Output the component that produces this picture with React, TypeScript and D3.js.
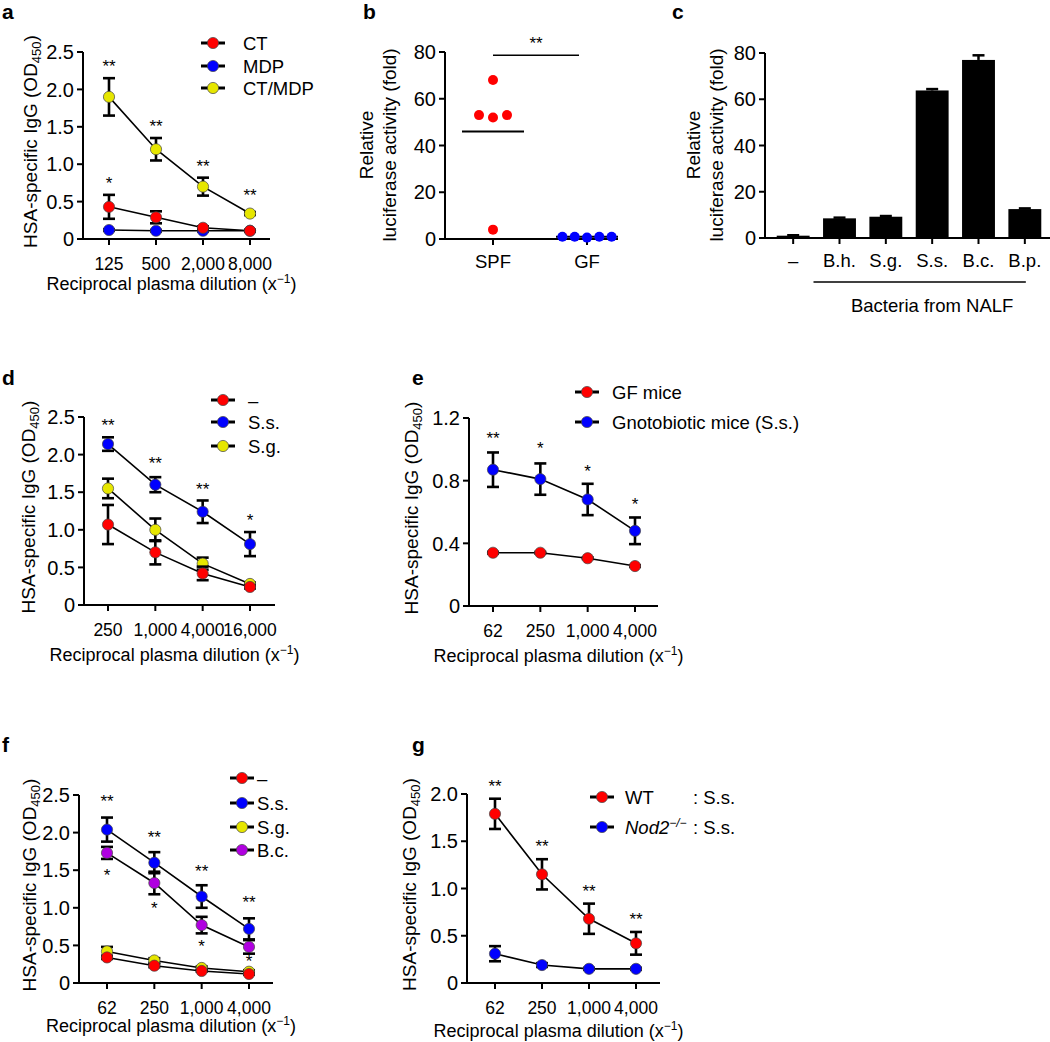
import React from 'react';
import * as d3 from 'd3';

const FONT = '"Liberation Sans", Arial, Helvetica, sans-serif';
const RED = '#ff0000';
const BLUE = '#0000ff';
const YELLOW = '#e6e600';
const PURPLE = '#b000e0';

// panel a
const aDilutions = ['125', '500', '2,000', '8,000'];
const aCT = [0.43, 0.29, 0.15, 0.11];
const aCTErr = [0.16, 0.08, 0.02, 0.01];
const aMDP = [0.12, 0.11, 0.11, 0.11];
const aMDPErr = [0.01, 0.01, 0.01, 0.01];
const aCTMDP = [1.9, 1.2, 0.7, 0.34];
const aCTMDPErr = [0.25, 0.15, 0.12, 0.02];
const aStars = [
  { at: 0, value: 2.35, text: '**' },
  { at: 1, value: 1.55, text: '**' },
  { at: 2, value: 1.02, text: '**' },
  { at: 3, value: 0.63, text: '**' },
  { at: 0, value: 0.79, text: '*' },
];

// panel b
const bGroups = ['SPF', 'GF'];
const bSPF = [68, 53, 52, 53, 4];
const bGF = [1, 1, 0.6, 1, 1];
const bSigValue = 78.6;

// panel c
const cStrains = ['–', 'B.h.', 'S.g.', 'S.s.', 'B.c.', 'B.p.'];
const cValues = [1, 8.5, 9.2, 63.8, 77, 12.5];
const cErr = [0.2, 0.3, 0.3, 0.6, 2.0, 0.3];

// panel d
const dDilutions = ['250', '1,000', '4,000', '16,000'];
const dNone = [1.07, 0.7, 0.42, 0.24];
const dNoneErr = [0.26, 0.16, 0.09, 0.02];
const dSs = [2.14, 1.6, 1.24, 0.81];
const dSsErr = [0.09, 0.1, 0.15, 0.16];
const dSg = [1.55, 1.0, 0.55, 0.28];
const dSgErr = [0.13, 0.15, 0.08, 0.02];
const dStars = [
  { at: 0, value: 2.43, text: '**' },
  { at: 1, value: 1.93, text: '**' },
  { at: 2, value: 1.58, text: '**' },
  { at: 3, value: 1.17, text: '*' },
];

// panel e
const eDilutions = ['62', '250', '1,000', '4,000'];
const eGF = [0.34, 0.34, 0.305, 0.255];
const eGFErr = [0.005, 0.005, 0.005, 0.005];
const eGno = [0.87, 0.81, 0.68, 0.48];
const eGnoErr = [0.11, 0.1, 0.1, 0.085];
const eStars = [
  { at: 0, value: 1.09, text: '**' },
  { at: 1, value: 1.03, text: '*' },
  { at: 2, value: 0.88, text: '*' },
  { at: 3, value: 0.67, text: '*' },
];

// panel f
const fDilutions = ['62', '250', '1,000', '4,000'];
const fNone = [0.34, 0.23, 0.16, 0.12];
const fNoneErr = [0.02, 0.02, 0.01, 0.01];
const fSs = [2.04, 1.6, 1.15, 0.72];
const fSsErr = [0.16, 0.14, 0.15, 0.14];
const fSg = [0.42, 0.3, 0.2, 0.15];
const fSgErr = [0.06, 0.03, 0.02, 0.02];
const fBc = [1.73, 1.33, 0.77, 0.48];
const fBcErr = [0.08, 0.15, 0.11, 0.09];
const fStars = [
  { at: 0, value: 2.46, text: '**' },
  { at: 1, value: 1.98, text: '**' },
  { at: 2, value: 1.53, text: '**' },
  { at: 3, value: 1.12, text: '**' },
  { at: 0, value: 1.48, text: '*' },
  { at: 1, value: 1.04, text: '*' },
  { at: 2, value: 0.53, text: '*' },
  { at: 3, value: 0.33, text: '*' },
];

// panel g
const gDilutions = ['62', '250', '1,000', '4,000'];
const gWT = [1.79, 1.15, 0.68, 0.42];
const gWTErr = [0.16, 0.16, 0.16, 0.12];
const gNod = [0.31, 0.19, 0.15, 0.15];
const gNodErr = [0.08, 0.02, 0.01, 0.01];
const gStars = [
  { at: 0, value: 2.12, text: '**' },
  { at: 1, value: 1.48, text: '**' },
  { at: 2, value: 1.01, text: '**' },
  { at: 3, value: 0.71, text: '**' },
];

const odTicks = [0, 0.5, 1, 1.5, 2, 2.5];
const foldTicks = [0, 20, 40, 60, 80];

type Series = { name: React.ReactNode; color: string; values: number[]; errors: number[] };
type Star = { at: number; value: number; text: string };

const fmtOD = (v: number) => (v === 0 ? '0' : v.toFixed(1));
const TICK_FS = 20;
const XTICK_FS = 17.5;

const YTitleOD = ({ x, y }: { x: number; y: number }) => (
  <text transform={`translate(${x},${y}) rotate(-90)`} textAnchor="middle" fontSize={19}>
    HSA-specific IgG (OD<tspan fontSize={13} dy={4}>450</tspan>
    <tspan dy={-4}>)</tspan>
  </text>
);

const XTitle = ({ x, y }: { x: number; y: number }) => (
  <text x={x} y={y} textAnchor="middle" fontSize={18}>
    Reciprocal plasma dilution (x<tspan fontSize={12} dy={-7}>−1</tspan>
    <tspan dy={7}>)</tspan>
  </text>
);

interface LineProps {
  letter: string;
  letterPos: [number, number];
  x0: number;
  x1: number;
  yTop: number;
  yBot: number;
  first: number;
  last: number;
  cats: string[];
  yMax: number;
  yTicks: number[];
  series: Series[];
  stars: Star[];
  legend: { x: number; rows: number[]; textX: number };
  yTitleX: number;
  xTitleDy: number;
  extraLegend?: { x: number; text: string };
}

const LinePanel = (p: LineProps) => {
  const x = d3.scalePoint<string>().domain(p.cats).range([p.first, p.last]);
  const y = d3.scaleLinear().domain([0, p.yMax]).range([p.yBot, p.yTop]);
  const line = d3
    .line<number>()
    .x((_, i) => x(p.cats[i]) as number)
    .y(v => y(v));
  const order = [...p.series].reverse();
  return (
    <g>
      <text x={p.letterPos[0]} y={p.letterPos[1]} fontSize={21} fontWeight="bold">
        {p.letter}
      </text>
      {/* axes */}
      <line x1={p.x0} x2={p.x0} y1={p.yTop} y2={p.yBot} stroke="#000" strokeWidth={2} />
      <line x1={p.x0 - 1} x2={p.x1} y1={p.yBot} y2={p.yBot} stroke="#000" strokeWidth={2} />
      {p.yTicks.map(t => (
        <g key={t}>
          <line x1={p.x0 - 6} x2={p.x0} y1={y(t)} y2={y(t)} stroke="#000" strokeWidth={2} />
          <text x={p.x0 - 9} y={y(t)} dy="0.36em" textAnchor="end" fontSize={TICK_FS}>
            {fmtOD(t)}
          </text>
        </g>
      ))}
      {p.cats.map(c => (
        <g key={c}>
          <line x1={x(c)} x2={x(c)} y1={p.yBot} y2={p.yBot + 6} stroke="#000" strokeWidth={2} />
          <text x={x(c)} y={p.yBot + 31} textAnchor="middle" fontSize={XTICK_FS}>
            {c}
          </text>
        </g>
      ))}
      <YTitleOD x={p.yTitleX} y={(p.yTop + p.yBot) / 2 - 4} />
      <XTitle x={(p.x0 + p.x1) / 2 - 5} y={p.yBot + p.xTitleDy} />
      {/* lines */}
      {order.map((s, i) => (
        <path key={'l' + i} d={line(s.values) || ''} fill="none" stroke="#000" strokeWidth={1.6} />
      ))}
      {order.map((s, i) => (
        <g key={'m' + i}>
          {s.values.map((v, j) => {
            const cx = x(p.cats[j]) as number;
            const e = s.errors[j];
            return (
              <g key={j} stroke="#000" strokeWidth={2.6}>
                <line x1={cx} x2={cx} y1={y(v + e)} y2={y(v - e)} />
                <line x1={cx - 6} x2={cx + 6} y1={y(v + e)} y2={y(v + e)} />
                <line x1={cx - 6} x2={cx + 6} y1={y(v - e)} y2={y(v - e)} />
              </g>
            );
          })}
          {s.values.map((v, j) => (
            <circle
              key={'c' + j}
              cx={x(p.cats[j])}
              cy={y(v)}
              r={5.6}
              fill={s.color}
              stroke="#444"
              strokeWidth={0.7}
            />
          ))}
        </g>
      ))}
      {p.stars.map((s, i) => (
        <text
          key={'s' + i}
          x={x(p.cats[s.at])}
          y={y(s.value) + 9}
          textAnchor="middle"
          fontSize={17}
        >
          {s.text}
        </text>
      ))}
      {/* legend */}
      {p.series.map((s, i) => (
        <g key={'lg' + i}>
          <line
            x1={p.legend.x - 12}
            x2={p.legend.x + 12}
            y1={p.legend.rows[i]}
            y2={p.legend.rows[i]}
            stroke="#000"
            strokeWidth={3}
          />
          <circle cx={p.legend.x} cy={p.legend.rows[i]} r={5.6} fill={s.color} stroke="#444" strokeWidth={0.7} />
          <text x={p.legend.textX} y={p.legend.rows[i]} dy="0.36em" fontSize={18.5}>
            {s.name}
          </text>
          {p.extraLegend && (
            <text x={p.extraLegend.x} y={p.legend.rows[i]} dy="0.36em" fontSize={18.5}>
              {p.extraLegend.text}
            </text>
          )}
        </g>
      ))}
    </g>
  );
};

const PanelB = () => {
  const x = d3.scalePoint<string>().domain(bGroups).range([493, 587]);
  const y = d3.scaleLinear().domain([0, 80]).range([239, 52]);
  const spfOff = [0, -1, 0, 1, 0];
  const gfOff = [-2, -1, 0, 1, 2];
  const spfMean = d3.mean(bSPF) as number;
  const gfMean = d3.mean(bGF) as number;
  const xs = x('SPF') as number;
  const xg = x('GF') as number;
  return (
    <g>
      <text x={363} y={19} fontSize={21} fontWeight="bold">b</text>
      <line x1={445} x2={445} y1={52} y2={239} stroke="#000" strokeWidth={2} />
      <line x1={444} x2={618} y1={239} y2={239} stroke="#000" strokeWidth={2} />
      {foldTicks.map(t => (
        <g key={t}>
          <line x1={439} x2={445} y1={y(t)} y2={y(t)} stroke="#000" strokeWidth={2} />
          <text x={436} y={y(t)} dy="0.36em" textAnchor="end" fontSize={TICK_FS}>{t}</text>
        </g>
      ))}
      {bGroups.map(g => (
        <g key={g}>
          <line x1={x(g)} x2={x(g)} y1={239} y2={245} stroke="#000" strokeWidth={2} />
          <text x={x(g)} y={268} textAnchor="middle" fontSize={18.5}>{g}</text>
        </g>
      ))}
      <text transform={`translate(373,145) rotate(-90)`} textAnchor="middle" fontSize={19}>Relative</text>
      <text transform={`translate(396,145) rotate(-90)`} textAnchor="middle" fontSize={19}>
        luciferase activity (fold)
      </text>
      <line x1={xs - 31} x2={xs + 31} y1={y(spfMean)} y2={y(spfMean)} stroke="#000" strokeWidth={2} />
      <line x1={xg - 31} x2={xg + 31} y1={y(gfMean)} y2={y(gfMean)} stroke="#000" strokeWidth={2} />
      {bSPF.map((v, i) => (
        <circle key={'s' + i} cx={xs + spfOff[i] * 14} cy={y(v)} r={5} fill={RED} />
      ))}
      {bGF.map((v, i) => (
        <circle key={'g' + i} cx={xg + gfOff[i] * 12.3} cy={y(v)} r={5} fill={BLUE} />
      ))}
      <line x1={xs} x2={xg - 8} y1={y(bSigValue)} y2={y(bSigValue)} stroke="#000" strokeWidth={1.5} />
      <text x={(xs + xg - 8) / 2} y={y(bSigValue) - 6} textAnchor="middle" fontSize={17}>**</text>
    </g>
  );
};

const PanelC = () => {
  const x = d3.scaleBand<string>().domain(cStrains).range([770, 1048]).paddingInner(0.29).paddingOuter(0.145);
  const y = d3.scaleLinear().domain([0, 80]).range([238, 53]);
  const bw = x.bandwidth();
  const first = (x('B.h.') as number) + bw / 2;
  const last = (x('B.p.') as number) + bw / 2;
  return (
    <g>
      <text x={672} y={19} fontSize={21} fontWeight="bold">c</text>
      {cStrains.map((c, i) => {
        const cx = (x(c) as number) + bw / 2;
        return (
          <g key={c}>
            <rect x={x(c)} y={y(cValues[i])} width={bw} height={238 - y(cValues[i])} fill="#000" />
            <line x1={cx} x2={cx} y1={y(cValues[i])} y2={y(cValues[i] + cErr[i])} stroke="#000" strokeWidth={2.5} />
            <line
              x1={cx - 6}
              x2={cx + 6}
              y1={y(cValues[i] + cErr[i])}
              y2={y(cValues[i] + cErr[i])}
              stroke="#000"
              strokeWidth={2.5}
            />
            <line x1={cx} x2={cx} y1={238} y2={244} stroke="#000" strokeWidth={2} />
            <text x={cx} y={267} textAnchor="middle" fontSize={18.5}>{c}</text>
          </g>
        );
      })}
      <line x1={765} x2={765} y1={53} y2={238} stroke="#000" strokeWidth={2} />
      <line x1={764} x2={1050} y1={238} y2={238} stroke="#000" strokeWidth={2} />
      {foldTicks.map(t => (
        <g key={t}>
          <line x1={759} x2={765} y1={y(t)} y2={y(t)} stroke="#000" strokeWidth={2} />
          <text x={756} y={y(t)} dy="0.36em" textAnchor="end" fontSize={TICK_FS}>{t}</text>
        </g>
      ))}
      <text transform={`translate(700,145) rotate(-90)`} textAnchor="middle" fontSize={19}>Relative</text>
      <text transform={`translate(723,145) rotate(-90)`} textAnchor="middle" fontSize={19}>
        luciferase activity (fold)
      </text>
      <line x1={first - 26} x2={last + 1} y1={282} y2={282} stroke="#000" strokeWidth={1.5} />
      <text x={(first + last) / 2} y={312} textAnchor="middle" fontSize={18.5}>Bacteria from NALF</text>
    </g>
  );
};

export default function App() {
  const nodLabel = (
    <tspan>
      <tspan fontStyle="italic">Nod2</tspan>
      <tspan fontSize={12} dy={-7} fontStyle="italic">−/−</tspan>
    </tspan>
  );
  return (
    <svg
      width={1050}
      height={1042}
      style={{ position: 'absolute', left: 0, top: 0, background: '#fff' }}
      fontFamily={FONT}
    >
      <LinePanel
        letter="a"
        letterPos={[2, 19]}
        x0={83}
        x1={270}
        yTop={52}
        yBot={239}
        first={109}
        last={250}
        cats={aDilutions}
        yMax={2.5}
        yTicks={odTicks}
        series={[
          { name: 'CT', color: RED, values: aCT, errors: aCTErr },
          { name: 'MDP', color: BLUE, values: aMDP, errors: aMDPErr },
          { name: 'CT/MDP', color: YELLOW, values: aCTMDP, errors: aCTMDPErr },
        ]}
        stars={aStars}
        legend={{ x: 213, rows: [43, 66, 88], textX: 243 }}
        yTitleX={37}
        xTitleDy={51}
      />
      <PanelB />
      <PanelC />
      <LinePanel
        letter="d"
        letterPos={[2, 385]}
        x0={84}
        x1={275}
        yTop={417}
        yBot={605}
        first={108}
        last={250}
        cats={dDilutions}
        yMax={2.5}
        yTicks={odTicks}
        series={[
          { name: '–', color: RED, values: dNone, errors: dNoneErr },
          { name: 'S.s.', color: BLUE, values: dSs, errors: dSsErr },
          { name: 'S.g.', color: YELLOW, values: dSg, errors: dSgErr },
        ]}
        stars={dStars}
        legend={{ x: 223, rows: [400, 422, 446], textX: 248 }}
        yTitleX={35}
        xTitleDy={56}
      />
      <LinePanel
        letter="e"
        letterPos={[412, 385]}
        x0={469}
        x1={658}
        yTop={418}
        yBot={606}
        first={493}
        last={635}
        cats={eDilutions}
        yMax={1.2}
        yTicks={[0, 0.4, 0.8, 1.2]}
        series={[
          { name: 'GF mice', color: RED, values: eGF, errors: eGFErr },
          { name: 'Gnotobiotic mice (S.s.)', color: BLUE, values: eGno, errors: eGnoErr },
        ]}
        stars={eStars}
        legend={{ x: 587, rows: [392, 422], textX: 612 }}
        yTitleX={418}
        xTitleDy={56}
      />
      <LinePanel
        letter="f"
        letterPos={[2, 752]}
        x0={79}
        x1={273}
        yTop={795}
        yBot={983}
        first={107}
        last={249}
        cats={fDilutions}
        yMax={2.5}
        yTicks={odTicks}
        series={[
          { name: '–', color: RED, values: fNone, errors: fNoneErr },
          { name: 'S.s.', color: BLUE, values: fSs, errors: fSsErr },
          { name: 'S.g.', color: YELLOW, values: fSg, errors: fSgErr },
          { name: 'B.c.', color: PURPLE, values: fBc, errors: fBcErr },
        ]}
        stars={fStars}
        legend={{ x: 242, rows: [778, 803, 827, 850], textX: 257 }}
        yTitleX={36}
        xTitleDy={49}
      />
      <LinePanel
        letter="g"
        letterPos={[412, 752]}
        x0={467}
        x1={660}
        yTop={794}
        yBot={983}
        first={495}
        last={636}
        cats={gDilutions}
        yMax={2.0}
        yTicks={[0, 0.5, 1, 1.5, 2]}
        series={[
          { name: 'WT', color: RED, values: gWT, errors: gWTErr },
          { name: nodLabel, color: BLUE, values: gNod, errors: gNodErr },
        ]}
        stars={gStars}
        legend={{ x: 602, rows: [797, 827], textX: 625 }}
        extraLegend={{ x: 693, text: ': S.s.' }}
        yTitleX={416}
        xTitleDy={54}
      />
    </svg>
  );
}
